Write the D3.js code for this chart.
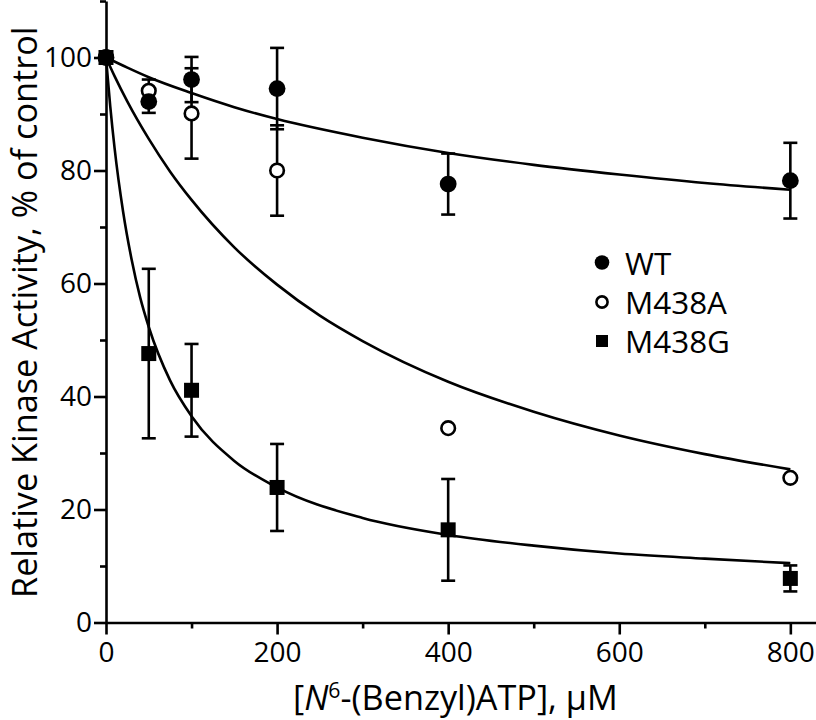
<!DOCTYPE html>
<html>
<head>
<meta charset="utf-8">
<script src="https://cdn.jsdelivr.net/npm/d3@7"></script>
<style>
  html, body { margin: 0; padding: 0; background: #fff; }
  svg { display: block; font-family: "Open Sans", "Noto Sans", sans-serif; }
</style>
</head>
<body>
<svg id="chart" width="816" height="720"></svg>
<script>
// ---- data ----
const concentrations = [0, 50, 100, 200, 400, 800];
const wtValues = [100, 92.2, 96.1, 94.5, 77.6, 78.2];
const wtErrors = [0, 2, 4, 7.2, 5.4, 6.7];
const m438aValues = [100, 94.1, 90.1, 80.0, 34.4, 25.6];
const m438aErrors = [0, 2, 8, 8, 0, 0];
const m438gValues = [100, 47.6, 41.1, 23.9, 16.4, 7.8];
const m438gErrors = [0, 15, 8.2, 7.7, 9, 2.3];

// fitted curves
const wtFitX = [0, 25, 50, 100, 150, 200, 300, 400, 500, 600, 700, 800];
const wtFitY = [100, 98.2, 96.5, 93.7, 91.2, 89.1, 85.8, 83.1, 81.0, 79.3, 77.8, 76.6];
const m438aFitX = [0, 10, 25, 50, 75, 100, 150, 200, 250, 300, 400, 500, 600, 700, 800];
const m438aFitY = [100, 96.7, 92.2, 85.6, 79.8, 74.8, 66.4, 59.8, 54.3, 49.8, 42.6, 37.3, 33.1, 29.8, 27.1];
const m438gFitX = [0, 5, 10, 20, 30, 40, 50, 75, 100, 150, 200, 300, 400, 500, 600, 700, 800];
const m438gFitY = [100, 91.3, 84.0, 72.7, 64.2, 57.5, 52.3, 42.8, 36.5, 28.6, 23.9, 18.5, 15.5, 13.6, 12.2, 11.3, 10.5];

const xMajorTicks = [0, 200, 400, 600, 800];
const xMinorTicks = [100, 300, 500, 700];
const yMajorTicks = [0, 20, 40, 60, 80, 100];
const yMinorTicks = [10, 30, 50, 70, 90, 110];

const seriesNames = ["WT", "M438A", "M438G"];
const yTitle = "Relative Kinase Activity, % of control";

// ---- drawing ----
const svg = d3.select("#chart");
const x = d3.scaleLinear().domain([0, 830]).range([106, 816]);
const y = d3.scaleLinear().domain([0, 110]).range([622.5, 1]);
const SW = 2.6;

function styleAxis(g) {
  g.selectAll("path, line").attr("stroke", "#000").attr("stroke-width", SW);
  g.selectAll("text").attr("fill", "#000").style("font-size", "28px")
    .style("font-family", '"Open Sans", sans-serif');
}

// x axis
const gx = svg.append("g").attr("transform", `translate(0,${y(0)})`);
gx.call(d3.axisBottom(x).tickValues(xMajorTicks).tickSize(12).tickSizeOuter(0).tickFormat(d3.format("d")));
styleAxis(gx);
gx.selectAll("text").attr("dy", null).attr("y", 39.5);
const gxm = svg.append("g").attr("transform", `translate(0,${y(0)})`);
gxm.call(d3.axisBottom(x).tickValues(xMinorTicks).tickSize(6).tickSizeOuter(0).tickFormat(""));
gxm.select(".domain").remove();
styleAxis(gxm);

// y axis
const gy = svg.append("g").attr("transform", `translate(${x(0)},0)`);
gy.call(d3.axisLeft(y).tickValues(yMajorTicks).tickSize(12).tickSizeOuter(0).tickPadding(2).tickFormat(d3.format("d")));
styleAxis(gy);
const gym = svg.append("g").attr("transform", `translate(${x(0)},0)`);
gym.call(d3.axisLeft(y).tickValues(yMinorTicks).tickSize(6).tickSizeOuter(0).tickFormat(""));
gym.select(".domain").remove();
styleAxis(gym);

// ---- axis titles (font size fitted to the reference's measured text width) ----
const baseFs = 34;
const probe = svg.append("text").style("font-size", baseFs + "px");
probe.append("tspan").text("[");
probe.append("tspan").style("font-style", "italic").text("N");
probe.append("tspan").attr("dy", -12).style("font-size", (baseFs * 0.62) + "px").text("6");
probe.append("tspan").attr("dy", 12).text("-(Benzyl)ATP");
const partW = probe.node().getComputedTextLength();
probe.remove();
const titleFs = baseFs * 244 / partW;

const xt = svg.append("text")
  .attr("x", 293).attr("y", 710)
  .attr("text-anchor", "start")
  .style("font-size", titleFs + "px");
xt.append("tspan").text("[");
xt.append("tspan").style("font-style", "italic").text("N");
xt.append("tspan").attr("dy", -titleFs * 0.36).style("font-size", (titleFs * 0.62) + "px").text("6");
xt.append("tspan").attr("dy", titleFs * 0.36).text("-(Benzyl)ATP], \u03BCM");

const yBase = Math.max(32, Math.ceil(titleFs * 1.07));
svg.append("text")
  .attr("transform", `translate(${yBase},598) rotate(-90)`)
  .attr("text-anchor", "start")
  .style("font-size", titleFs + "px")
  .text(yTitle);

// fitted curves
const line = d3.line().x(d => x(d[0])).y(d => y(d[1])).curve(d3.curveMonotoneX);
[[wtFitX, wtFitY], [m438aFitX, m438aFitY], [m438gFitX, m438gFitY]].forEach(([xs, ys]) => {
  svg.append("path")
    .datum(xs.map((v, i) => [v, ys[i]]))
    .attr("d", line)
    .attr("fill", "none").attr("stroke", "#000").attr("stroke-width", SW);
});

// error bars
const capW = 14;
function errorBars(values, errors) {
  const data = concentrations.map((c, i) => ({c, v: values[i], e: errors[i]})).filter(d => d.e > 0);
  const g = svg.append("g").attr("stroke", "#000").attr("stroke-width", SW);
  g.selectAll(".v").data(data).join("line")
    .attr("x1", d => x(d.c)).attr("x2", d => x(d.c))
    .attr("y1", d => y(d.v - d.e)).attr("y2", d => y(d.v + d.e));
  g.selectAll(".t").data(data).join("line")
    .attr("x1", d => x(d.c) - capW / 2).attr("x2", d => x(d.c) + capW / 2)
    .attr("y1", d => y(d.v + d.e)).attr("y2", d => y(d.v + d.e));
  g.selectAll(".b").data(data).join("line")
    .attr("x1", d => x(d.c) - capW / 2).attr("x2", d => x(d.c) + capW / 2)
    .attr("y1", d => y(d.v - d.e)).attr("y2", d => y(d.v - d.e));
}
errorBars(m438aValues, m438aErrors);
errorBars(wtValues, wtErrors);
errorBars(m438gValues, m438gErrors);

// markers
function filledCircle(g, cx, cy, r) {
  g.append("circle").attr("cx", cx).attr("cy", cy).attr("r", r).attr("fill", "#000");
}
function openCircle(g, cx, cy, r) {
  g.append("circle").attr("cx", cx).attr("cy", cy).attr("r", r)
    .attr("fill", "#fff").attr("stroke", "#000").attr("stroke-width", SW);
}
function square(g, cx, cy, s) {
  g.append("rect").attr("x", cx - s / 2).attr("y", cy - s / 2).attr("width", s).attr("height", s).attr("fill", "#000");
}
const mg = svg.append("g");
concentrations.forEach((c, i) => openCircle(mg, x(c), y(m438aValues[i]), 6.8));
concentrations.forEach((c, i) => filledCircle(mg, x(c), y(wtValues[i]), 8.4));
concentrations.forEach((c, i) => square(mg, x(c), y(m438gValues[i]), 15));

// legend
const lg = svg.append("g");
const legendRows = [262.5, 302, 341];
filledCircle(lg, 602, legendRows[0], 7.3);
openCircle(lg, 602, legendRows[1], 5.6);
square(lg, 602, legendRows[2], 12);
const legendTexts = seriesNames.map((n, i) =>
  lg.append("text").attr("x", 625).attr("y", legendRows[i] + 12).style("font-size", "31px").text(n));
// fit legend font so that "M438A" spans ~102px as in the reference
const lw = legendTexts[1].node().getComputedTextLength();
const legendFs = 31 * 102 / lw;
legendTexts.forEach(t => t.style("font-size", legendFs + "px"));
</script>
</body>
</html>
